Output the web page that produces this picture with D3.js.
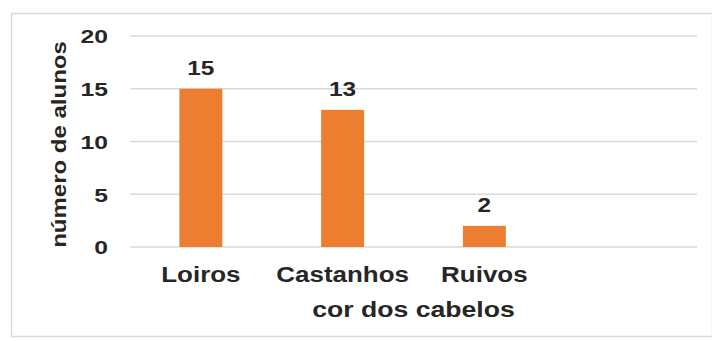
<!DOCTYPE html>
<html>
<head>
<meta charset="utf-8">
<script src="https://cdn.jsdelivr.net/npm/d3@7/dist/d3.min.js"></script>
<style>
  html, body { margin: 0; padding: 0; background: #fff; }
  svg { display: block; }
  text { font-family: "Liberation Sans", Arial, sans-serif; font-weight: bold; fill: #262626; }
</style>
</head>
<body>
<svg id="chart" width="712" height="341"></svg>
<script>
// Hair colour of the students in the class
const categories = ["Loiros", "Castanhos", "Ruivos", ""];
const values = [15, 13, 2, null];
const yTicks = [0, 5, 10, 15, 20];
const yTitle = "número de alunos";
const xTitle = "cor dos cabelos";

const svg = d3.select("#chart");
const W = 712;
const plot = { left: 130, right: 697, top: 36, bottom: 247 };

// Frame around the chart area
svg.append("rect")
  .attr("x", 11.5).attr("y", 13.5)
  .attr("width", W - 11).attr("height", 323)
  .attr("fill", "#fff")
  .attr("stroke", "#d9d9d9").attr("stroke-width", 1.5);

const x = d3.scaleBand().domain(categories).range([plot.left, plot.right]).padding(0);
const y = d3.scaleLinear().domain([0, 20]).range([plot.bottom, plot.top]);
const barW = x.bandwidth() * 0.303;

// Horizontal gridlines
svg.append("g").selectAll("line").data(yTicks).join("line")
  .attr("x1", plot.left).attr("x2", plot.right)
  .attr("y1", d => y(d)).attr("y2", d => y(d))
  .attr("stroke", "#d9d9d9").attr("stroke-width", 1.6);

// Y tick labels (wide bold digits, right-aligned at x = 108)
const yAxis = d3.axisLeft(y).tickValues(yTicks).tickSize(0).tickPadding(0);
const yg = svg.append("g").attr("transform", "translate(108,0)").call(yAxis);
yg.select(".domain").remove();
yg.selectAll(".tick text")
  .attr("font-size", 19)
  .attr("font-family", null)
  .attr("x", 0)
  .attr("dy", "0.36em")
  .attr("text-anchor", "end")
  .attr("transform", "scale(1.3,1)");

// Bars
const data = categories.map((c, i) => ({ c, v: values[i] })).filter(d => d.v != null);
svg.append("g").selectAll("rect").data(data).join("rect")
  .attr("x", d => x(d.c) + x.bandwidth() / 2 - barW / 2)
  .attr("width", barW)
  .attr("y", d => y(d.v))
  .attr("height", d => y(0) - y(d.v))
  .attr("fill", "#ed7d31");

// Value labels
svg.append("g").selectAll("text").data(data).join("text")
  .attr("transform", d => `translate(${x(d.c) + x.bandwidth() / 2},${y(d.v) - 14}) scale(1.22,1)`)
  .attr("text-anchor", "middle")
  .attr("font-size", 20)
  .text(d => d.v);

// Category labels
svg.append("g").selectAll("text").data(categories.filter(c => c)).join("text")
  .attr("transform", d => `translate(${x(d) + x.bandwidth() / 2},282) scale(1.18,1)`)
  .attr("text-anchor", "middle")
  .attr("font-size", 22)
  .text(d => d);

// Axis titles
svg.append("text")
  .attr("transform", `translate(${(plot.left + plot.right) / 2},317) scale(1.21,1)`)
  .attr("text-anchor", "middle")
  .attr("font-size", 22)
  .text(xTitle);

svg.append("text")
  .attr("transform", `translate(66,${(plot.top + plot.bottom) / 2 + 3}) rotate(-90) scale(1.2,1)`)
  .attr("text-anchor", "middle")
  .attr("font-size", 20)
  .text(yTitle);
</script>
</body>
</html>
